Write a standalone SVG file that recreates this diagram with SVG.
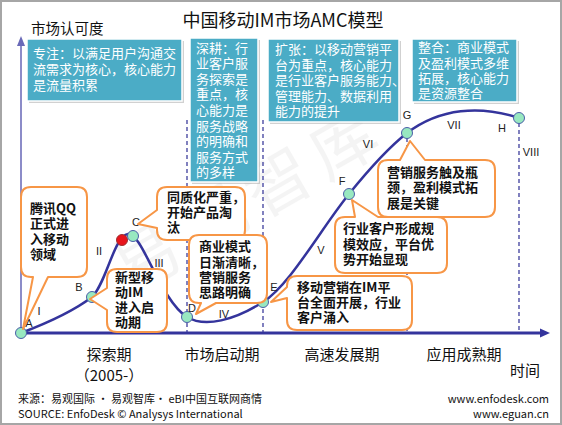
<svg xmlns="http://www.w3.org/2000/svg" width="562" height="425" viewBox="0 0 562 425">
<defs>
<style>
.cjk{font-family:"Noto Sans CJK SC","Noto Sans",sans-serif}
.teal{fill:#4bacc6;stroke:#ffffff;stroke-width:1.5}
.shadow{fill:#9a9a9a;opacity:0.45}
.tt{font-family:"Noto Sans CJK SC",sans-serif;font-size:13px;fill:#ffffff}
.co{fill:#ffffff;stroke:#f79646;stroke-width:2;stroke-linejoin:round}
.ct{font-family:"Noto Sans CJK SC",sans-serif;font-size:13px;font-weight:bold;fill:#111111}
.lbl{font-family:"Liberation Sans",Arial,sans-serif;font-size:11px;fill:#222222}
.dash{stroke:#2e2e94;stroke-width:1.2;stroke-dasharray:4,3;fill:none}
.pt{fill:#98e8c0;stroke:#4a5fa8;stroke-width:1}
.ax{font-family:"Noto Sans CJK SC",sans-serif;font-size:15px;fill:#111111}
.ft{font-family:"Noto Sans CJK SC","Liberation Sans",sans-serif;font-size:11px;fill:#111111}
</style>
</defs>
<rect x="0" y="0" width="562" height="425" fill="#ffffff"/>
<rect x="1" y="1" width="560" height="423" fill="none" stroke="#a6a6a6" stroke-width="2"/>
<text class="cjk" x="250" y="222" transform="rotate(-30 250 200)" font-size="66" letter-spacing="10" fill="#000000" opacity="0.04" text-anchor="middle">易观智库</text>

<text class="cjk" x="283" y="27" font-size="18" fill="#111111" text-anchor="middle">中国移动IM市场AMC模型</text>
<text class="cjk" x="31" y="34" font-size="14.5" fill="#111111">市场认可度</text>

<g id="connectors">
<line x1="187" y1="120" x2="187" y2="333" class="dash"/>
<line x1="263" y1="120" x2="263" y2="333" class="dash"/>
<line x1="407" y1="138" x2="407" y2="333" class="dash"/>
<line x1="519" y1="123" x2="519" y2="333" class="dash"/>
<line x1="21" y1="333" x2="21" y2="44" stroke="#8c8cc8" stroke-width="2"/>
<polygon points="21,36 17,46 25,46" fill="#6a6ab8"/>
<line x1="21" y1="333" x2="542" y2="333" stroke="#34349c" stroke-width="3"/>
<polygon points="550,333 540,328.5 540,337.5" fill="#34349c"/>
<path d="M21,333 C50,322 75,310 92,297 C106,284 114,236 128,234 C142,232 160,300 187,317 C205,328 235,320 263,302 C290,285 320,230 349,194 C370,168 388,148 407,133 C440,108 480,105 519,118" fill="none" stroke="#34349c" stroke-width="2.5"/>
</g>

<g id="box-explore">
<rect x="29" y="41" width="155" height="62" class="shadow"/>
<rect x="27" y="39" width="155" height="62" class="teal"/>
<text class="tt" x="33" y="58">专注：以满足用户沟通交</text>
<text class="tt" x="33" y="74">流需求为核心，核心能力</text>
<text class="tt" x="33" y="90">是流量积累</text>
</g>
<g id="box-start">
<rect x="192" y="40" width="68" height="144" class="shadow"/>
<rect x="190" y="38" width="68" height="144" class="teal"/>
<text class="tt" x="196" y="52.5">深耕：行</text>
<text class="tt" x="196" y="68">业客户服</text>
<text class="tt" x="196" y="83.7">务探索是</text>
<text class="tt" x="196" y="99.3">重点，核</text>
<text class="tt" x="196" y="115">心能力是</text>
<text class="tt" x="196" y="130.5">服务战略</text>
<text class="tt" x="196" y="146">的明确和</text>
<text class="tt" x="196" y="161.7">服务方式</text>
<text class="tt" x="196" y="177.3">的多样</text>
</g>
<g id="box-growth">
<rect x="270" y="41" width="131" height="83" class="shadow"/>
<rect x="268" y="39" width="131" height="83" class="teal"/>
<text class="tt" x="275" y="54" font-size="12.5">扩张：以移动营销平</text>
<text class="tt" x="275" y="69.5" font-size="12.5">台为重点，核心能力</text>
<text class="tt" x="275" y="85" font-size="12.5">是行业客户服务能力、</text>
<text class="tt" x="275" y="100.5" font-size="12.5">管理能力、数据利用</text>
<text class="tt" x="275" y="116" font-size="12.5">能力的提升</text>
</g>
<g id="box-mature">
<rect x="414" y="41" width="105" height="63" class="shadow"/>
<rect x="412" y="39" width="105" height="63" class="teal"/>
<text class="tt" x="418" y="52">整合：商业模式</text>
<text class="tt" x="418" y="67.5">及盈利模式多维</text>
<text class="tt" x="418" y="83">拓展，核心能力</text>
<text class="tt" x="418" y="98">是资源整合</text>
</g>

<g id="point-A"><circle cx="21" cy="333" r="5.5" class="pt"/><text class="lbl" x="29" y="327" text-anchor="middle">A</text></g>
<g id="point-B"><circle cx="92" cy="297" r="5.5" class="pt"/><text class="lbl" x="79" y="291" text-anchor="middle">B</text></g>
<g id="point-red"><circle cx="122" cy="240" r="5.5" fill="#e8141c" stroke="#a03030" stroke-width="1"/></g>
<g id="point-C"><circle cx="133" cy="236" r="5.5" class="pt"/><text class="lbl" x="136" y="226" text-anchor="middle">C</text></g>
<g id="point-D"><circle cx="187" cy="317" r="5.5" class="pt"/><text class="lbl" x="192" y="312" text-anchor="middle">D</text></g>
<g id="point-E"><circle cx="263" cy="302" r="5.5" class="pt"/><text class="lbl" x="274" y="291" text-anchor="middle">E</text></g>
<g id="point-F"><circle cx="349" cy="194" r="5.5" class="pt"/><text class="lbl" x="342" y="185" text-anchor="middle">F</text></g>
<g id="point-G"><circle cx="407" cy="133" r="5.5" class="pt"/><text class="lbl" x="407" y="119" text-anchor="middle">G</text></g>
<g id="point-H"><circle cx="519" cy="118" r="5.5" class="pt"/><text class="lbl" x="502" y="132" text-anchor="middle">H</text></g>

<g id="phases">
<text class="lbl" x="39" y="315" text-anchor="middle">I</text>
<text class="lbl" x="99" y="255" text-anchor="middle">II</text>
<text class="lbl" x="159" y="267" text-anchor="middle">III</text>
<text class="lbl" x="224" y="318" text-anchor="middle">IV</text>
<text class="lbl" x="321" y="254" text-anchor="middle">V</text>
<text class="lbl" x="368" y="148" text-anchor="middle">VI</text>
<text class="lbl" x="454" y="129" text-anchor="middle">VII</text>
<text class="lbl" x="531" y="156" text-anchor="middle">VIII</text>
</g>

<g id="callout-qq">
<path class="co" d="M31,187 H77 Q87,187 87,197 V267 Q87,277 77,277 H48 L23,329 L33,277 H31 Q21,277 21,267 V197 Q21,187 31,187 Z"/>
<text class="ct" x="30" y="212.5">腾讯QQ</text>
<text class="ct" x="30" y="228">正式进</text>
<text class="ct" x="30" y="243.5">入移动</text>
<text class="ct" x="30" y="259">领域</text>
</g>
<g id="callout-newim">
<path class="co" d="M117,269 H157 Q167,269 167,279 V322 Q167,332 157,332 H117 Q107,332 107,322 V310 L90,299 L107,288 V279 Q107,269 117,269 Z"/>
<text class="ct" x="115" y="282">新型移</text>
<text class="ct" x="115" y="297">动IM</text>
<text class="ct" x="115" y="312">进入启</text>
<text class="ct" x="115" y="327">动期</text>
</g>
<g id="callout-homog">
<path class="co" d="M167,187 H235 Q245,187 245,197 V230 Q245,240 235,240 H167 Q157,240 157,230 V228 L138,224 L157,210 V197 Q157,187 167,187 Z"/>
<text class="ct" x="167" y="202">同质化严重，</text>
<text class="ct" x="167" y="217">开始产品淘</text>
<text class="ct" x="167" y="232">汰</text>
</g>
<g id="callout-model">
<path class="co" d="M199,235 H257 Q267,235 267,245 V293 Q267,303 257,303 H216 L196,314 L201,303 H199 Q189,303 189,293 V245 Q189,235 199,235 Z"/>
<text class="ct" x="199" y="251">商业模式</text>
<text class="ct" x="199" y="267">日渐清晰，</text>
<text class="ct" x="199" y="282">营销服务</text>
<text class="ct" x="199" y="297">思路明确</text>
</g>
<g id="callout-mobile">
<path class="co" d="M297,276 H402 Q412,276 412,286 V320 Q412,330 402,330 H297 Q287,330 287,320 V298 L271,302 L287,287 V286 Q287,276 297,276 Z"/>
<text class="ct" x="297" y="292">移动营销在IM平</text>
<text class="ct" x="297" y="307">台全面开展，行业</text>
<text class="ct" x="297" y="322">客户涌入</text>
</g>
<g id="callout-scale">
<path class="co" d="M345,217 H355 L352,200 L378,217 H437 Q447,217 447,227 V263 Q447,273 437,273 H345 Q335,273 335,263 V227 Q335,217 345,217 Z"/>
<text class="ct" x="343" y="233">行业客户形成规</text>
<text class="ct" x="343" y="249">模效应，平台优</text>
<text class="ct" x="343" y="264">势开始显现</text>
</g>
<g id="callout-bottleneck">
<path class="co" d="M388,160 H400 L410,141 L425,160 H485 Q495,160 495,170 V207 Q495,217 485,217 H388 Q378,217 378,207 V170 Q378,160 388,160 Z"/>
<text class="ct" x="387" y="177">营销服务触及瓶</text>
<text class="ct" x="387" y="192">颈，盈利模式拓</text>
<text class="ct" x="387" y="208">展是关键</text>
</g>

<g id="axis-labels">
<text class="ax" x="109" y="360" text-anchor="middle">探索期</text>
<text class="ax" x="109" y="381" text-anchor="middle">（2005-）</text>
<text class="ax" x="222" y="360" text-anchor="middle">市场启动期</text>
<text class="ax" x="342" y="360" text-anchor="middle">高速发展期</text>
<text class="ax" x="464" y="360" text-anchor="middle">应用成熟期</text>
<text class="ax" x="525" y="376" font-size="14.5" text-anchor="middle">时间</text>
</g>

<g id="footer">
<text class="ft" x="18" y="403">来源：易观国际 · 易观智库· eBI中国互联网商情</text>
<text class="ft" x="18" y="418" font-family="Liberation Sans,Arial,sans-serif" font-size="11.5">SOURCE: EnfoDesk © Analysys International</text>
<text class="ft" x="549" y="403" text-anchor="end" font-size="11.5">www.enfodesk.com</text>
<text class="ft" x="549" y="418" text-anchor="end" font-size="11.5">www.eguan.cn</text>
</g>
</svg>
